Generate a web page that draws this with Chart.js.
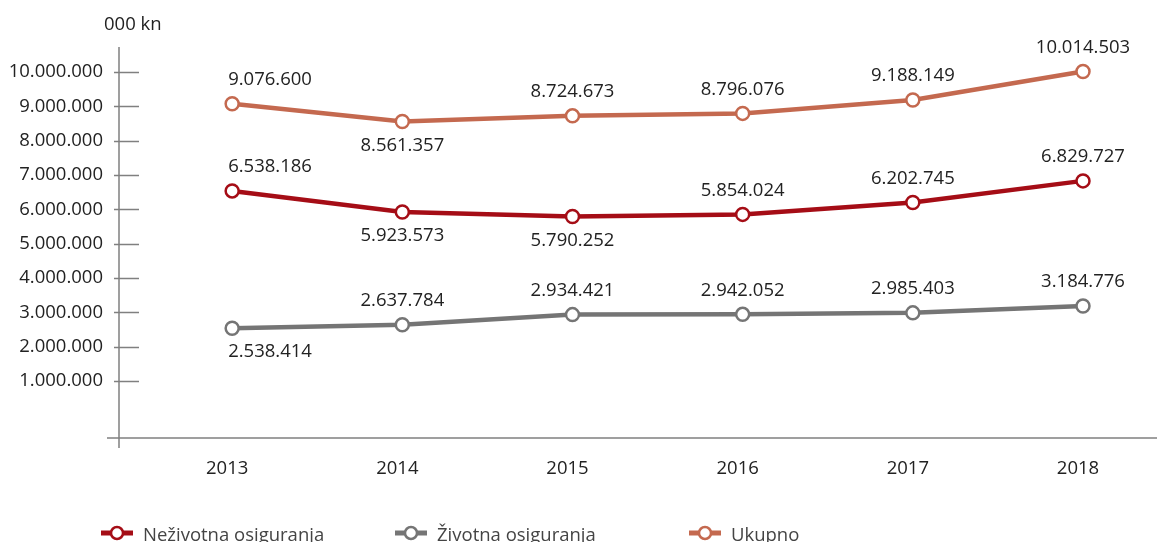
<!DOCTYPE html>
<html>
<head>
<meta charset="utf-8">
<script src="https://cdn.jsdelivr.net/npm/chart.js@4"></script>
<style>
  html, body { margin: 0; padding: 0; background: #fff; }
  #wrap { width: 1157px; height: 542px; position: relative; }
</style>
</head>
<body>
<div id="wrap"><canvas id="chart"></canvas></div>
<script>
// Data
const years = [2013, 2014, 2015, 2016, 2017, 2018];
const nezivotna = [6538186, 5923573, 5790252, 5854024, 6202745, 6829727];
const zivotna = [2538414, 2637784, 2934421, 2942052, 2985403, 3184776];
const ukupno = [9076600, 8561357, 8724673, 8796076, 9188149, 10014503];
const yTicks = [1000000, 2000000, 3000000, 4000000, 5000000, 6000000, 7000000, 8000000, 9000000, 10000000];
const seriesNames = ['Neživotna osiguranja', 'Životna osiguranja', 'Ukupno'];

// label side per point: true = above, false = below
const nezAbove = [true, false, false, true, true, true];
const zivAbove = [false, true, true, true, true, true];
const ukuAbove = [true, false, true, true, true, true];

const COLORS = ['#a50d16', '#757575', '#c4694f'];
const FONT = '"Open Sans", "Noto Sans", sans-serif';
const FONT_SIZE = 18.5;
const AXIS_COLOR = '#808080';

const fmt = (v) => String(Math.round(v)).replace(/\B(?=(\d{3})+(?!\d))/g, '.');

function toPoints(values) {
  return values.map((v, i) => ({ x: years[i], y: v }));
}

function makeDataset(label, values, color, above) {
  return {
    label: label,
    data: toPoints(values),
    borderColor: color,
    backgroundColor: '#fff',
    borderWidth: 4.5,
    pointRadius: 6.5,
    pointBorderWidth: 2.5,
    pointBackgroundColor: '#fff',
    pointBorderColor: color,
    tension: 0,
    labelAbove: above,
  };
}

// axis lines + inner tick marks
const axesPlugin = {
  id: 'axesLines',
  beforeDatasetsDraw(chart) {
    const { ctx, chartArea, scales } = chart;
    ctx.save();
    ctx.strokeStyle = AXIS_COLOR;
    ctx.lineWidth = 1.5;
    ctx.beginPath();
    ctx.moveTo(chartArea.left, chartArea.top);
    ctx.lineTo(chartArea.left, chartArea.bottom + 10);
    ctx.moveTo(chartArea.left - 12, chartArea.bottom);
    ctx.lineTo(chart.width, chartArea.bottom);
    yTicks.forEach((t) => {
      const y = Math.round(scales.y.getPixelForValue(t)) + 0.5;
      ctx.moveTo(chartArea.left - 5, y);
      ctx.lineTo(chartArea.left + 20, y);
    });
    ctx.stroke();
    ctx.restore();
  },
};

// value labels
const labelsPlugin = {
  id: 'valueLabels',
  afterDatasetsDraw(chart) {
    const { ctx } = chart;
    ctx.save();
    ctx.font = FONT_SIZE + 'px ' + FONT;
    ctx.fillStyle = '#222';
    ctx.textBaseline = 'middle';
    chart.data.datasets.forEach((ds, di) => {
      const meta = chart.getDatasetMeta(di);
      meta.data.forEach((pt, i) => {
        const text = fmt(ds.data[i].y);
        const dy = ds.labelAbove[i] ? -24 : 24;
        if (i === 0) {
          ctx.textAlign = 'left';
          ctx.fillText(text, pt.x - 4, pt.y + dy);
        } else {
          ctx.textAlign = 'center';
          ctx.fillText(text, pt.x, pt.y + dy);
        }
      });
    });
    // unit title
    ctx.textAlign = 'left';
    ctx.fillText('000 kn', 104, 25);
    ctx.restore();
  },
};

// legend with line + circle markers
const legendPlugin = {
  id: 'lineLegend',
  afterDraw(chart) {
    const { ctx } = chart;
    const y = 533;
    ctx.save();
    ctx.font = FONT_SIZE + 'px ' + FONT;
    ctx.textBaseline = 'middle';
    ctx.textAlign = 'left';
    seriesNames.forEach((name, i) => {
      const x = 101 + i * 294;
      ctx.strokeStyle = COLORS[i];
      ctx.lineWidth = 5;
      ctx.beginPath();
      ctx.moveTo(x, y);
      ctx.lineTo(x + 32, y);
      ctx.stroke();
      ctx.beginPath();
      ctx.arc(x + 16, y, 6, 0, Math.PI * 2);
      ctx.fillStyle = '#fff';
      ctx.fill();
      ctx.lineWidth = 2.5;
      ctx.stroke();
      ctx.fillStyle = '#444';
      ctx.fillText(name, x + 42, y + 3);
    });
    ctx.restore();
  },
};

new Chart(document.getElementById('chart'), {
  type: 'line',
  data: {
    datasets: [
      makeDataset(seriesNames[0], nezivotna, COLORS[0], nezAbove),
      makeDataset(seriesNames[1], zivotna, COLORS[1], zivAbove),
      makeDataset(seriesNames[2], ukupno, COLORS[2], ukuAbove),
    ],
  },
  options: {
    responsive: true,
    maintainAspectRatio: false,
    animation: false,
    layout: { padding: { left: 0, right: 0, top: 47, bottom: 0 } },
    plugins: {
      legend: { display: false },
      tooltip: { enabled: false },
    },
    scales: {
      x: {
        type: 'linear',
        min: 2012.335,
        max: 2018.382,
        afterBuildTicks(scale) {
          scale.ticks = years.map((v) => ({ value: v }));
        },
        afterFit(scale) {
          scale.height = 104;
        },
        border: { display: false },
        grid: { display: false },
        ticks: {
          padding: 12,
          labelOffset: -5,
          color: '#222',
          font: { family: FONT, size: FONT_SIZE },
          callback: (v) => String(v),
        },
      },
      y: {
        min: -660000,
        max: 10730000,
        afterBuildTicks(scale) {
          scale.ticks = yTicks.map((v) => ({ value: v }));
        },
        afterFit(scale) {
          scale.width = 119;
        },
        border: { display: false },
        grid: { display: false },
        ticks: {
          padding: 8,
          color: '#222',
          font: { family: FONT, size: FONT_SIZE },
          callback: (v) => fmt(v),
        },
      },
    },
  },
  plugins: [axesPlugin, labelsPlugin, legendPlugin],
});
</script>
</body>
</html>
